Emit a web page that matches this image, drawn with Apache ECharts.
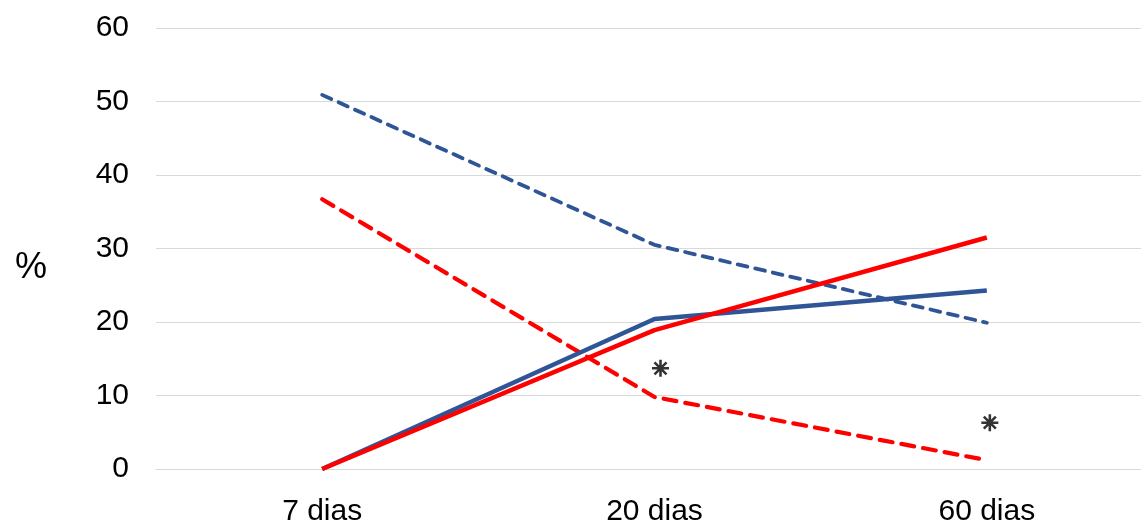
<!DOCTYPE html>
<html><head><meta charset="utf-8">
<script src="https://cdn.jsdelivr.net/npm/echarts@6/dist/echarts.min.js"></script>
<style>html,body{margin:0;padding:0;background:#fff}#c{width:1141px;height:522px}</style>
</head><body><div id="c"></div>
<script>
const categories = ['7 dias', '20 dias', '60 dias'];
const blueDashed = [50.9, 30.5, 19.9];
const redDashed = [36.7, 9.8, 1.2];
const blueSolid = [0, 20.4, 24.3];
const redSolid = [0, 18.9, 31.5];
const asterisks = [['20 dias', 13.7], ['60 dias', 6.3]];
const yTicks = { min: 0, max: 60, interval: 10 };

const chart = echarts.init(document.getElementById('c'), null, { renderer: 'canvas' });
const font = 'Liberation Sans, Arial, sans-serif';
const astOffsets = [[6, 0], [3, 0]];

// eight-spoked asterisk glyph as a symbol path
function asteriskPath() {
  const L = 10, w = 1.5, parts = [];
  for (let k = 0; k < 4; k++) {
    const a = k * Math.PI / 4, dx = Math.cos(a), dy = Math.sin(a), nx = -dy, ny = dx;
    const p = [[L * dx + w * nx, L * dy + w * ny], [-L * dx + w * nx, -L * dy + w * ny],
               [-L * dx - w * nx, -L * dy - w * ny], [L * dx - w * nx, L * dy - w * ny]];
    parts.push('M' + p.map(q => q[0].toFixed(2) + ' ' + q[1].toFixed(2)).join(' L') + ' Z');
  }
  return 'path://' + parts.join(' ');
}

chart.setOption({
  animation: false,
  grid: { left: 156, width: 997, top: 28, bottom: 53, outerBoundsMode: 'none', containLabel: false },
  graphic: [{ type: 'text', left: 15, top: 250, style: { text: '%', fill: '#000', fontSize: 36, fontFamily: font } }],
  xAxis: {
    type: 'category', data: categories, boundaryGap: true,
    axisLine: { show: true, lineStyle: { color: '#d9d9d9', width: 1 } },
    axisTick: { show: false },
    axisLabel: { color: '#000', fontSize: 30, fontFamily: font, margin: 28 }
  },
  yAxis: {
    type: 'value', min: yTicks.min, max: yTicks.max, interval: yTicks.interval,
    axisLine: { show: false }, axisTick: { show: false },
    axisLabel: { color: '#000', fontSize: 30, fontFamily: font, margin: 27 },
    splitLine: { lineStyle: { color: '#d9d9d9', width: 1 } }
  },
  series: [
    { type: 'line', data: blueDashed, symbol: 'none', lineStyle: { color: '#2F5597', width: 3.8, type: [10, 8], cap: 'round' } },
    { type: 'line', data: redDashed, symbol: 'none', lineStyle: { color: '#FF0000', width: 4.2, type: [13, 9], cap: 'round' } },
    { type: 'line', data: blueSolid, symbol: 'none', lineStyle: { color: '#2F5597', width: 4.5 } },
    { type: 'line', data: redSolid, symbol: 'none', lineStyle: { color: '#FF0000', width: 4.5 } },
    { type: 'scatter', symbol: asteriskPath(), symbolSize: 17, itemStyle: { color: '#000' },
      data: asterisks.map((d, i) => ({ value: d, symbolOffset: astOffsets[i] })) }
  ]
});
</script></body></html>
